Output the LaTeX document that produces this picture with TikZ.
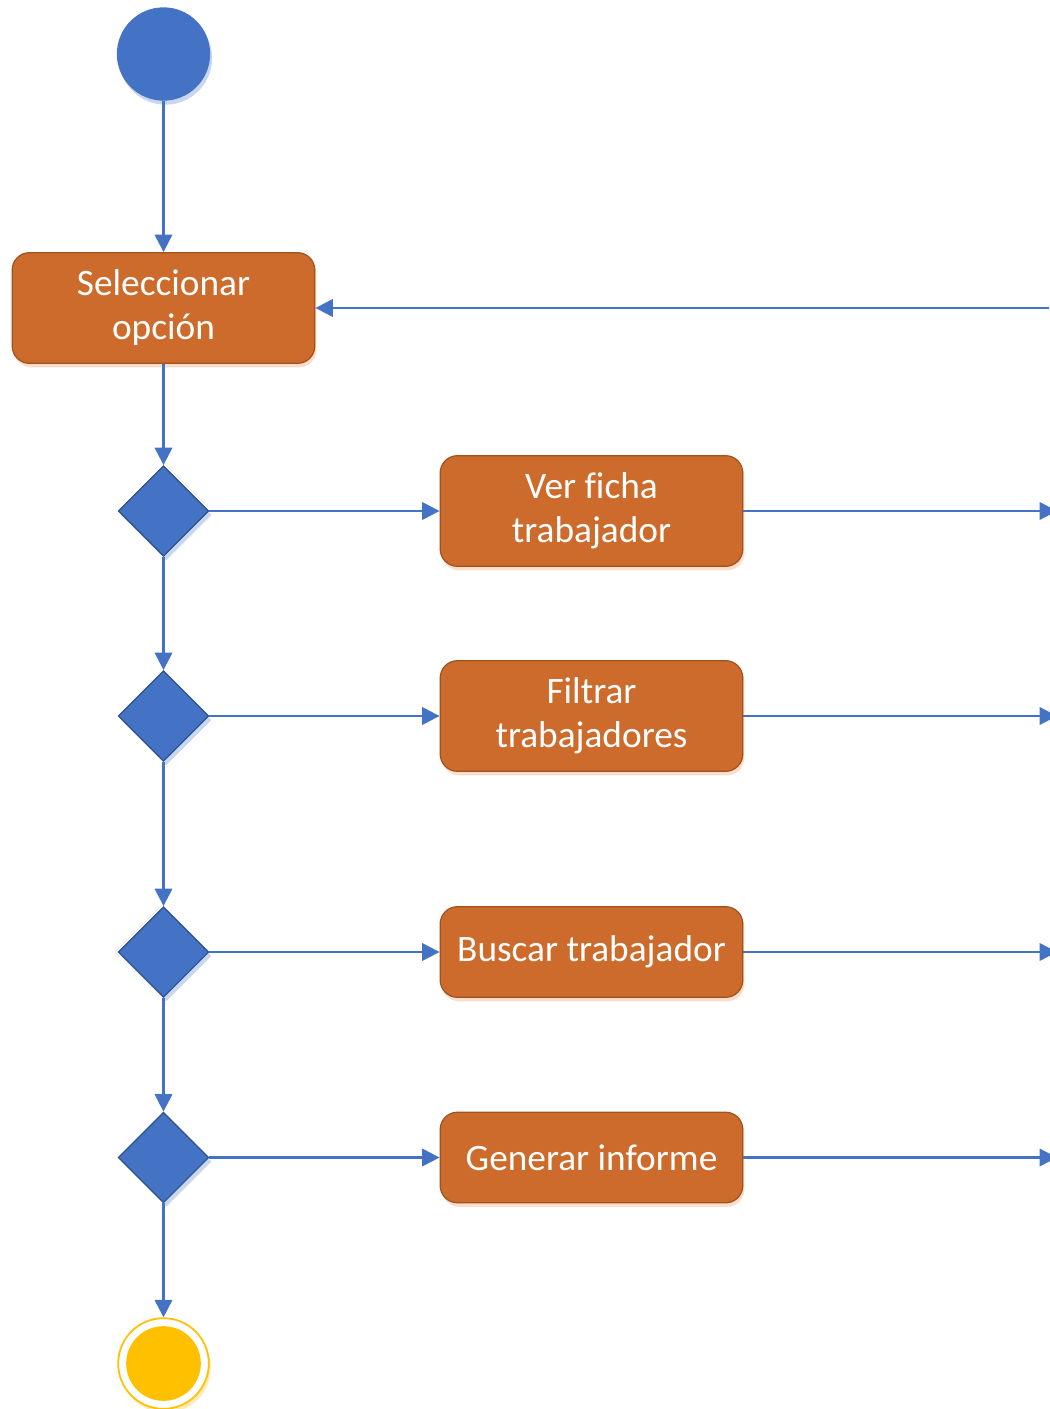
\documentclass[tikz,border=0pt]{standalone}
\usepackage{fontspec}
\setmainfont{Carlito}[Ligatures=NoCommon]
\usetikzlibrary{shapes.geometric,arrows.meta,shadows}
\definecolor{flowblue}{RGB}{68,114,196}
\definecolor{flowedge}{RGB}{47,82,143}
\definecolor{flowshade}{RGB}{200,214,238}
\definecolor{actionfill}{RGB}{205,107,44}
\definecolor{actionedge}{RGB}{160,82,30}
\definecolor{actionshade}{RGB}{250,222,204}
\definecolor{stopyellow}{RGB}{255,192,0}
\definecolor{stopshade}{RGB}{255,236,180}
\begin{document}
\begin{tikzpicture}[x=0.75pt,y=-0.75pt,
  every node/.style={inner sep=0pt},
  action/.style={rectangle,rounded corners=13pt,draw=actionedge,line width=0.9pt,
    fill=actionfill,text=white,minimum width=227pt,minimum height=83pt,align=center,
    font=\fontsize{28}{33}\selectfont,
    drop shadow={shadow xshift=1.2pt,shadow yshift=-3pt,fill=actionshade,opacity=1}},
  choice/.style={diamond,draw=flowedge,line width=0.9pt,fill=flowblue,minimum size=68pt,
    drop shadow={shadow xshift=2pt,shadow yshift=-3pt,fill=flowshade,opacity=1}},
  start/.style={circle,fill=flowblue,minimum size=70pt,
    drop shadow={shadow xshift=1.5pt,shadow yshift=-3pt,fill=flowshade,opacity=1}},
  stop/.style={circle,draw=stopyellow,line width=1.3pt,fill=white,minimum size=68pt,
    drop shadow={shadow xshift=1.5pt,shadow yshift=-3pt,fill=stopshade,opacity=1}},
  stopdot/.style={circle,fill=stopyellow,minimum size=56pt},
  flow/.style={draw=flowblue,line width=1.8pt,-{Triangle[length=13pt,width=13pt]}}]
\useasboundingbox (0,0) rectangle (1049,1409);

\node[start] (start) at (163.5,54) {};
\node[action] (select) at (163.5,308) {Seleccionar\\opción};
\node[choice] (c1) at (163.5,511) {};
\node[action] (view) at (591.5,511) {Ver ficha\\trabajador};
\node[choice] (c2) at (163.5,716) {};
\node[action] (filter) at (591.5,716) {Filtrar\\trabajadores};
\node[choice] (c3) at (163.5,952) {};
\node[action,minimum height=68pt] (search) at (591.5,952) {Buscar trabajador};
\node[choice] (c4) at (163.5,1157.5) {};
\node[action,minimum height=68pt] (report) at (591.5,1157.5) {Generar informe};
\node[stop] (stop) at (163.5,1363.5) {};
\node[stopdot] (stopdot) at (stop) {};

\coordinate (back) at (1049,308);
\coordinate (out1) at (1057,511);
\coordinate (out2) at (1057,716);
\coordinate (out3) at (1057,952);
\coordinate (out4) at (1057,1157.5);

% main column
\draw[flow] (start) -- (select);
\draw[flow] (select) -- (c1);
\draw[flow] (c1) -- (c2);
\draw[flow] (c2) -- (c3);
\draw[flow] (c3) -- (c4);
\draw[flow] (c4) -- (stop);

% branches
\draw[flow] (c1) -- (view);
\draw[flow] (c2) -- (filter);
\draw[flow] (c3) -- (search);
\draw[flow] (c4) -- (report);
\draw[flow] (view) -- (out1);
\draw[flow] (filter) -- (out2);
\draw[flow] (search) -- (out3);
\draw[flow] (report) -- (out4);
\draw[flow] (back) -- (select);
\end{tikzpicture}
\end{document}
